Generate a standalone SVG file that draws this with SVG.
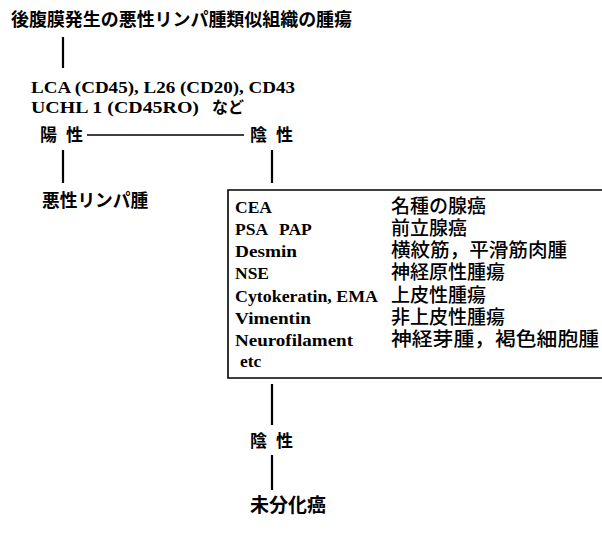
<svg xmlns="http://www.w3.org/2000/svg" width="602" height="541" viewBox="0 0 602 541">
<style>
.jp{font-family:"Noto Sans CJK JP","Noto Sans CJK SC",sans-serif;font-weight:bold;fill:#000}
.jm{font-family:"Noto Sans CJK JP","Noto Sans CJK SC",sans-serif;font-weight:500;fill:#000}
.lt{font-family:"Liberation Serif","DejaVu Serif",serif;font-weight:bold;fill:#000}
.ln{stroke:#000;fill:none}
</style>
<rect width="602" height="541" fill="#fff"/>
<g id="title"><text class="jp" x="11" y="26" font-size="18" textLength="341" lengthAdjust="spacingAndGlyphs">後腹膜発生の悪性リンパ腫類似組織の腫瘍</text></g>
<g id="markers">
<text class="lt" x="31" y="93" font-size="17.5" textLength="264" lengthAdjust="spacingAndGlyphs">LCA (CD45), L26 (CD20), CD43</text>
<text class="lt" x="31" y="113" font-size="17.5" textLength="168" lengthAdjust="spacingAndGlyphs">UCHL 1 (CD45RO)</text>
<text class="jp" x="212" y="113" font-size="16">など</text>
</g>
<g id="positive"><text class="jp" x="40" y="141" font-size="17">陽</text><text class="jp" x="66" y="141" font-size="17">性</text></g>
<g id="negative"><text class="jp" x="250" y="141" font-size="17">陰</text><text class="jp" x="276" y="141" font-size="17">性</text></g>
<g id="lymphoma"><text class="jp" x="42" y="207" font-size="17.7">悪性リンパ腫</text></g>
<g id="panel">
<path class="ln" stroke-width="1.6" d="M602 190H228V378H602"/>
<g class="lt" font-size="17.5">
<text x="235" y="213">CEA</text>
<text x="235" y="235">PSA<tspan x="279">PAP</tspan></text>
<text x="235" y="257" textLength="62" lengthAdjust="spacingAndGlyphs">Desmin</text>
<text x="235" y="279">NSE</text>
<text x="235" y="302" textLength="143" lengthAdjust="spacingAndGlyphs">Cytokeratin, EMA</text>
<text x="235" y="324" textLength="76" lengthAdjust="spacingAndGlyphs">Vimentin</text>
<text x="235" y="346" textLength="118" lengthAdjust="spacingAndGlyphs">Neurofilament</text>
<text x="240" y="367">etc</text>
</g>
<g class="jm" font-size="19">
<text x="391" y="213">名種の腺癌</text>
<text x="391" y="235">前立腺癌</text>
<text x="391" y="257" textLength="176" lengthAdjust="spacingAndGlyphs">横紋筋，平滑筋肉腫</text>
<text x="391" y="279">神経原性腫瘍</text>
<text x="391" y="302">上皮性腫瘍</text>
<text x="391" y="324">非上皮性腫瘍</text>
<text x="391" y="346" textLength="208" lengthAdjust="spacingAndGlyphs">神経芽腫，褐色細胞腫</text>
</g>
</g>
<g id="negative2"><text class="jp" x="250" y="447" font-size="17">陰</text><text class="jp" x="276" y="447" font-size="17">性</text></g>
<g id="undifferentiated"><text class="jp" x="250" y="512" font-size="19">未分化癌</text></g>
<g id="connectors" class="ln">
<line x1="63" y1="37" x2="63" y2="68" stroke-width="2.2"/>
<line x1="87" y1="135" x2="244" y2="135" stroke-width="1.5"/>
<line x1="63" y1="150" x2="63" y2="183" stroke-width="2.2"/>
<line x1="272" y1="150" x2="272" y2="183" stroke-width="2.2"/>
<line x1="272" y1="384" x2="272" y2="425" stroke-width="2.2"/>
<line x1="272" y1="455" x2="272" y2="490" stroke-width="2.2"/>
</g>
</svg>
